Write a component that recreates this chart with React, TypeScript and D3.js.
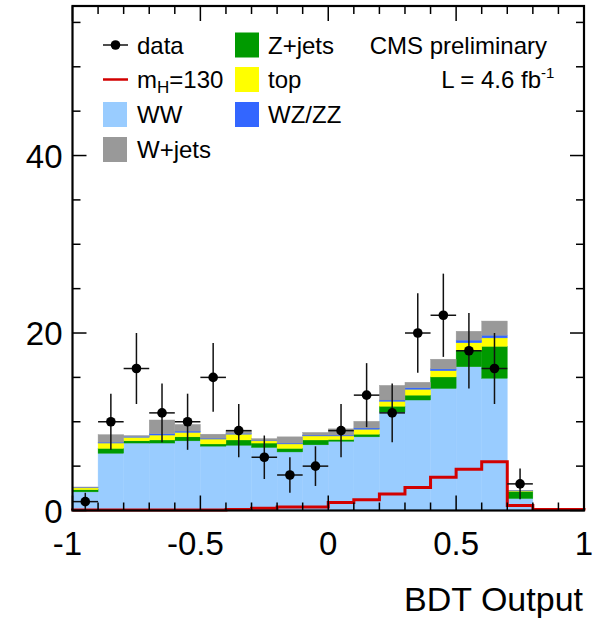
import React from "react";
import * as d3 from "d3";

// Histogram bin edges of the BDT output (20 bins of width 0.1)
const binEdges = [-1, -0.9, -0.8, -0.7, -0.6, -0.5, -0.4, -0.3, -0.2, -0.1, 0, 0.1, 0.2, 0.3, 0.4, 0.5, 0.6, 0.7, 0.8, 0.9, 1];

// Background expectations per bin (stacked, bottom to top)
const wwValues = [2.1, 6.45, 7.6, 7.6, 7.85, 7.25, 7.35, 7.1, 6.6, 7.4, 7.8, 8.3, 11.1, 12.45, 13.75, 16.2, 14.9, 1.35, 0, 0];
const zjetsValues = [0.25, 0.55, 0.25, 0.35, 0.45, 0.25, 0.6, 0.5, 0.4, 0.55, 0.2, 0.3, 0.65, 0.55, 1.3, 1.8, 3.6, 0.8, 0, 0];
const topValues = [0.2, 0.6, 0.4, 0.55, 0.5, 0.55, 0.65, 0.25, 0.5, 0.45, 0.4, 0.55, 0.55, 0.65, 0.7, 0.9, 0.95, 0.05, 0, 0];
const wzzzValues = [0.05, 0.1, 0.1, 0.15, 0.15, 0.1, 0.1, 0.05, 0.1, 0.1, 0.1, 0.15, 0.15, 0.2, 0.2, 0.3, 0.3, 0.02, 0, 0];
const wjetsValues = [0.05, 0.85, 0.1, 1.55, 0.75, 0.45, 0.3, 0.2, 0.7, 0.3, 0.7, 0.75, 1.65, 0.6, 1.1, 1.0, 1.6, 0.05, 0, 0];

// Higgs signal, mH = 130
const signalValues = [0.05, 0.05, 0.05, 0.05, 0.05, 0.05, 0.1, 0.25, 0.4, 0.4, 0.9, 1.2, 1.85, 2.6, 3.75, 4.65, 5.5, 0.55, 0.1, 0.1];

// Observed events per bin
const dataValues = [1, 10, 16, 11, 10, 15, 9, 6, 4, 5, 9, 13, 11, 20, 22, 18, 16, 3, 0, 0];

const xTickMajor = [-1, -0.5, 0, 0.5, 1];
const xTickLabels = ["-1", "-0.5", "0", "0.5", "1"];
const yTickMajor = [0, 20, 40];

const W = 595;
const H = 621;
const FONT = "'Liberation Sans', Arial, Helvetica, sans-serif";

const x = d3.scaleLinear().domain([-1, 1]).range([72.5, 584]);
const y = d3.scaleLinear().domain([0, 56.85]).range([510.5, 6]);

const stackSeries = [
  { name: "WW", values: wwValues, color: "#99ccff" },
  { name: "Z+jets", values: zjetsValues, color: "#009a00" },
  { name: "top", values: topValues, color: "#ffff00" },
  { name: "WZ/ZZ", values: wzzzValues, color: "#3366ff" },
  { name: "W+jets", values: wjetsValues, color: "#999999" },
];

export default function App() {
  const nBins = binEdges.length - 1;
  const bins = d3.range(nBins).map((i) => ({ lo: binEdges[i], hi: binEdges[i + 1] }));

  // cumulative stack
  const rects: { x0: number; x1: number; y0: number; y1: number; color: string; key: string }[] = [];
  const cum = new Array(nBins).fill(0);
  stackSeries.forEach((s, si) => {
    bins.forEach((b, i) => {
      const v = s.values[i];
      if (v > 0) {
        rects.push({ x0: b.lo, x1: b.hi, y0: cum[i], y1: cum[i] + v, color: s.color, key: `${si}-${i}` });
      }
      cum[i] += v;
    });
  });

  // signal step line
  const sigPath = d3.path();
  sigPath.moveTo(x(binEdges[0]), y(0));
  bins.forEach((b, i) => {
    sigPath.lineTo(x(b.lo), y(signalValues[i]));
    sigPath.lineTo(x(b.hi), y(signalValues[i]));
  });
  sigPath.lineTo(x(binEdges[nBins]), y(0));

  const xMinor = d3.range(-10, 11).map((k) => k / 10);
  const yMinor = d3.range(0, 56, 5);

  const legendRows = [45, 79.5, 114.5, 149.5];

  return (
    <svg width={W} height={H} style={{ position: "absolute", left: 0, top: 0 }} fontFamily={FONT}>
      <rect x={0} y={0} width={W} height={H} fill="#ffffff" />

      {/* stacked backgrounds */}
      {rects.map((r) => (
        <rect
          key={r.key}
          x={x(r.x0)}
          y={y(r.y1)}
          width={x(r.x1) - x(r.x0)}
          height={y(r.y0) - y(r.y1)}
          fill={r.color}
          stroke={r.color}
          strokeWidth={0.4}
        />
      ))}

      {/* signal */}
      <path d={sigPath.toString()} fill="none" stroke="#d20000" strokeWidth={3} strokeLinejoin="miter" />

      {/* data with error bars */}
      {bins.map((b, i) => {
        const n = dataValues[i];
        if (n <= 0) return null;
        const cx = x((b.lo + b.hi) / 2);
        const err = Math.sqrt(n);
        return (
          <g key={`d${i}`}>
            <line x1={x(b.lo)} x2={x(b.hi)} y1={y(n)} y2={y(n)} stroke="#111" strokeWidth={1.5} />
            <line x1={cx} x2={cx} y1={y(Math.max(0, n - err))} y2={y(n + err)} stroke="#111" strokeWidth={1.5} />
            <circle cx={cx} cy={y(n)} r={4.8} fill="#000" />
          </g>
        );
      })}

      {/* axis ticks */}
      {xMinor.map((v) => {
        const isMajor = xTickMajor.some((m) => Math.abs(m - v) < 1e-9);
        const len = isMajor ? 15 : 8;
        return (
          <g key={`xt${v}`}>
            <line x1={x(v)} x2={x(v)} y1={y(0)} y2={y(0) - len} stroke="#000" strokeWidth={1.5} />
            <line x1={x(v)} x2={x(v)} y1={y(56.85)} y2={y(56.85) + len} stroke="#000" strokeWidth={1.5} />
          </g>
        );
      })}
      {yMinor.map((v) => {
        const isMajor = yTickMajor.includes(v);
        const len = isMajor ? 14 : 8;
        return (
          <g key={`yt${v}`}>
            <line x1={x(-1)} x2={x(-1) + len} y1={y(v)} y2={y(v)} stroke="#000" strokeWidth={1.5} />
            <line x1={x(1)} x2={x(1) - len} y1={y(v)} y2={y(v)} stroke="#000" strokeWidth={1.5} />
          </g>
        );
      })}

      {/* frame */}
      <rect x={x(-1)} y={y(56.85)} width={x(1) - x(-1)} height={y(0) - y(56.85)} fill="none" stroke="#000" strokeWidth={2.2} />

      {/* tick labels */}
      {yTickMajor.map((v) => (
        <text key={`yl${v}`} x={62.5} y={y(v) + 12} textAnchor="end" fontSize={33} fill="#000">
          {v}
        </text>
      ))}
      {xTickMajor.map((v, i) => (
        <text key={`xl${v}`} x={x(v) + (v < 0 ? -5 : 0)} y={555} textAnchor="middle" fontSize={33} fill="#000">
          {xTickLabels[i]}
        </text>
      ))}

      <text x={583} y={611} textAnchor="end" fontSize={34} fill="#000">
        BDT Output
      </text>

      {/* legend, first column */}
      <line x1={103} x2={128} y1={legendRows[0]} y2={legendRows[0]} stroke="#000" strokeWidth={1.4} />
      <circle cx={115.5} cy={legendRows[0]} r={4.8} fill="#000" />
      <text x={137} y={legendRows[0] + 8.5} fontSize={24}>data</text>

      <line x1={103} x2={128} y1={legendRows[1]} y2={legendRows[1]} stroke="#d20000" strokeWidth={2.5} />
      <text x={137} y={legendRows[1] + 8.5} fontSize={24}>
        m<tspan fontSize={17} dy={5}>H</tspan>
        <tspan dy={-5}>=130</tspan>
      </text>

      <rect x={103} y={legendRows[2] - 12.5} width={24} height={25} fill={stackSeries[0].color} />
      <text x={137} y={legendRows[2] + 8.5} fontSize={24}>WW</text>

      <rect x={103} y={legendRows[3] - 12.5} width={24} height={25} fill={stackSeries[4].color} />
      <text x={137} y={legendRows[3] + 8.5} fontSize={24}>W+jets</text>

      {/* legend, second column */}
      <rect x={235} y={legendRows[0] - 12.5} width={24} height={25} fill={stackSeries[1].color} />
      <text x={268} y={legendRows[0] + 8.5} fontSize={24}>Z+jets</text>

      <rect x={235} y={legendRows[1] - 12.5} width={24} height={25} fill={stackSeries[2].color} />
      <text x={268} y={legendRows[1] + 8.5} fontSize={24}>top</text>

      <rect x={235} y={legendRows[2] - 12.5} width={24} height={25} fill={stackSeries[3].color} />
      <text x={268} y={legendRows[2] + 8.5} fontSize={24}>WZ/ZZ</text>

      {/* experiment label */}
      <text x={547} y={legendRows[0] + 9} textAnchor="end" fontSize={24}>CMS preliminary</text>
      <text x={541} y={legendRows[1] + 8.5} textAnchor="end" fontSize={24}>
        L = 4.6 fb
      </text>
      <text x={541} y={legendRows[1] - 2} fontSize={15}>-1</text>
    </svg>
  );
}
